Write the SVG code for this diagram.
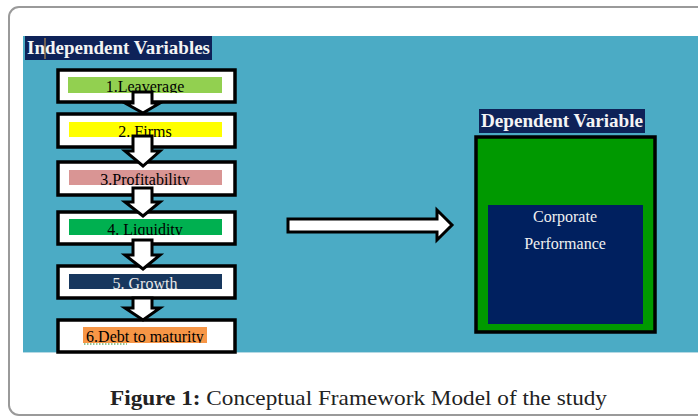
<svg xmlns="http://www.w3.org/2000/svg" width="698" height="417" viewBox="0 0 698 417">
<style>
.box{fill:#fff;stroke:#000;stroke-width:3.5}
.lbl{font-family:"Liberation Serif",serif;font-size:16px;text-anchor:middle}
.hdr{font-family:"Liberation Serif",serif;font-size:18px;fill:#f4f4f4;font-weight:bold}
.arr{fill:#fff;stroke:#000;stroke-width:3;stroke-linejoin:miter}
.cap{font-family:"Liberation Serif",serif;font-size:22px;fill:#222}
</style>
<defs>
<clipPath id="c1"><rect x="60" y="72" width="173" height="21"/></clipPath>
<clipPath id="c2"><rect x="60" y="116" width="173" height="21"/></clipPath>
<clipPath id="c3"><rect x="60" y="164" width="173" height="21"/></clipPath>
<clipPath id="c4"><rect x="60" y="214" width="173" height="21"/></clipPath>
<clipPath id="c5"><rect x="60" y="268" width="173" height="21"/></clipPath>
<clipPath id="c6"><rect x="60" y="322" width="173" height="21"/></clipPath>
</defs>
<rect x="9" y="7" width="720" height="408" rx="10" fill="#fff" stroke="#9a9a9a" stroke-width="2"/>
<rect x="23" y="36" width="675" height="316" fill="#4babc5"/>
<line x1="23" y1="352.5" x2="698" y2="352.5" stroke="#b5d9e4" stroke-width="1"/>
<g id="hdr-independent">
<rect x="25" y="36" width="187" height="24" fill="#0e2258"/>
<text class="hdr" x="27" y="54" textLength="183" lengthAdjust="spacingAndGlyphs">Independent Variables</text>
<line x1="45" y1="38" x2="45" y2="59" stroke="#d9a04a" stroke-width="1"/>
</g>
<g id="n1"><rect class="box" x="58" y="70" width="177" height="32"/><rect x="68" y="77" width="154" height="16" fill="#92d050"/><text class="lbl" x="145" y="92" clip-path="url(#c1)">1.Leaverage</text></g>
<g id="n2"><rect class="box" x="58" y="114" width="177" height="33"/><rect x="69" y="122" width="153" height="15" fill="#ffff00"/><text class="lbl" x="145" y="137" clip-path="url(#c2)">2. Firms</text></g>
<g id="n3"><rect class="box" x="58" y="162" width="177" height="33"/><rect x="69" y="170" width="153" height="15" fill="#d99594"/><text class="lbl" x="145" y="185" clip-path="url(#c3)">3.Profitability</text></g>
<g id="n4"><rect class="box" x="58" y="212" width="177" height="32"/><rect x="69" y="219" width="153" height="16" fill="#00b050"/><text class="lbl" x="145" y="235" clip-path="url(#c4)">4. Liquidity</text></g>
<g id="n5"><rect class="box" x="58" y="266" width="177" height="32"/><rect x="69" y="274" width="153" height="15" fill="#17375e"/><text class="lbl" x="145" y="289" fill="#e8e8e8" clip-path="url(#c5)">5. Growth</text></g>
<g id="n6"><rect class="box" x="58" y="320" width="177" height="32"/><rect x="83" y="327" width="124" height="16" fill="#f79646"/><text class="lbl" x="145" y="342" clip-path="url(#c6)">6.Debt to maturity</text><line x1="84" y1="344" x2="127" y2="344" stroke="#2a8a2a" stroke-width="1" stroke-dasharray="1.5,1.5"/></g>
<g id="n7">
<rect x="479" y="109" width="166" height="24" fill="#0e2258"/>
<text class="hdr" x="481" y="127" textLength="162" lengthAdjust="spacingAndGlyphs">Dependent Variable</text>
<rect x="476" y="137" width="179" height="195" fill="#009900" stroke="#000" stroke-width="3.5"/>
<rect x="488" y="205" width="155" height="119" fill="#00205f"/>
<text class="lbl" x="565" y="222" fill="#f0f0f0">Corporate</text>
<text class="lbl" x="565" y="249" fill="#f0f0f0">Performance</text>
</g>
<g id="connectors">
<polygon class="arr" points="133,92 152,92 152,103 160,103 143,113 125,103 133,103"/>
<polygon class="arr" points="133,136 152,136 152,151 160,151 143,166 125,151 133,151"/>
<polygon class="arr" points="133,188 152,188 152,202 160,202 143,216 125,202 133,202"/>
<polygon class="arr" points="133,240 152,240 152,255 160,255 143,269 125,255 133,255"/>
<polygon class="arr" points="133,298 152,298 152,308 160,308 143,320 125,308 133,308"/>
<polygon class="arr" points="288,219 437,219 437,210 452,225 437,240 437,232 288,232"/>
</g>
<text class="cap" x="110" y="405" textLength="497" lengthAdjust="spacingAndGlyphs"><tspan font-weight="bold">Figure 1:</tspan> Conceptual Framework Model of the study</text>
</svg>
